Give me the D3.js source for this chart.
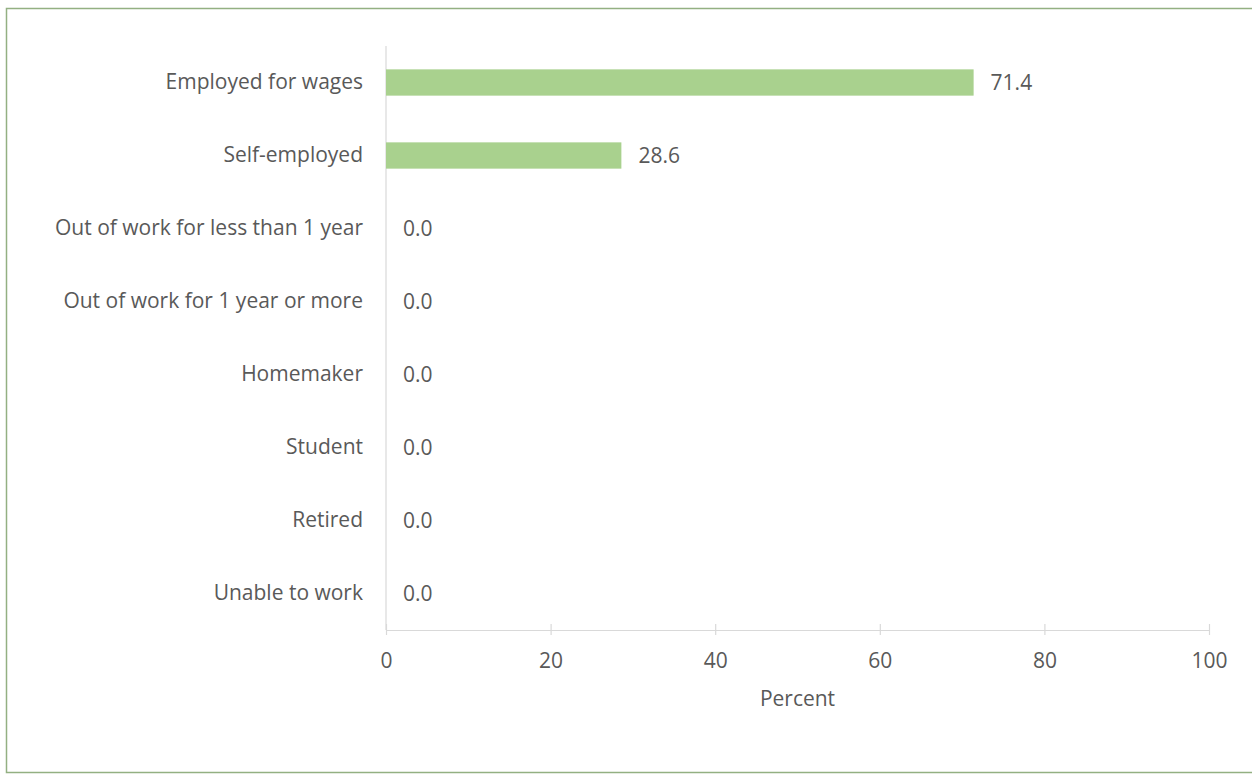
<!DOCTYPE html>
<html>
<head>
<meta charset="utf-8">
<script src="https://cdn.jsdelivr.net/npm/d3@7"></script>
<style>
  html, body { margin: 0; padding: 0; background: #fff; }
  svg { display: block; }
</style>
</head>
<body>
<svg id="chart" width="1252" height="774"></svg>
<script>
const categories = [
  "Employed for wages",
  "Self-employed",
  "Out of work for less than 1 year",
  "Out of work for 1 year or more",
  "Homemaker",
  "Student",
  "Retired",
  "Unable to work"
];
const values = [71.4, 28.6, 0.0, 0.0, 0.0, 0.0, 0.0, 0.0];
const xTicks = [0, 20, 40, 60, 80, 100];
const xTitle = "Percent";

(function () {
const svg = d3.select("#chart");
const font = "'Open Sans', 'Liberation Sans', sans-serif";
const fs = "21px";
const textColor = "#595959";

// outer frame
svg.append("rect")
  .attr("x", 6.5).attr("y", 8.5)
  .attr("width", 1252).attr("height", 764)
  .attr("fill", "#fff")
  .attr("stroke", "#93b082")
  .attr("stroke-width", 1.5);

const pLeft = 386, pRight = 1209, pTop = 46, pBottom = 630;

const x = d3.scaleLinear().domain([0, 100]).range([pLeft, pRight]);
const y = d3.scaleBand().domain(categories).range([pTop, pBottom]).paddingInner(0.64).paddingOuter(0.32);

// x axis
const xAxis = d3.axisBottom(x).tickValues(xTicks).tickSize(0).tickFormat(d3.format("d"));
const gx = svg.append("g").attr("transform", `translate(0,${pBottom})`).call(xAxis);
gx.select(".domain").attr("stroke", "#d9d9d9").attr("stroke-width", 1.2);
gx.selectAll(".tick text")
  .attr("dy", 0).attr("y", 38)
  .attr("fill", textColor).style("font-family", font).style("font-size", fs);
gx.selectAll(".tick").append("line")
  .attr("y1", -6).attr("y2", 5)
  .attr("stroke", "#d9d9d9").attr("stroke-width", 1.2);

// y axis line
svg.append("line")
  .attr("x1", x(0)).attr("x2", x(0))
  .attr("y1", pTop).attr("y2", pBottom)
  .attr("stroke", "#d9d9d9").attr("stroke-width", 1.2);

// category labels
const yAxis = d3.axisLeft(y).tickSize(0).tickPadding(23);
const gy = svg.append("g").attr("transform", `translate(${pLeft},0)`).call(yAxis);
gy.select(".domain").remove();
gy.selectAll(".tick text")
  .attr("fill", textColor).style("font-family", font).style("font-size", fs);

// bars
svg.append("g").selectAll("rect")
  .data(values)
  .join("rect")
  .attr("x", x(0))
  .attr("y", (d, i) => y(categories[i]))
  .attr("width", d => x(d) - x(0))
  .attr("height", y.bandwidth())
  .attr("fill", "#a9d18e");

// value labels
svg.append("g").selectAll("text")
  .data(values)
  .join("text")
  .attr("x", d => x(d) + 17)
  .attr("y", (d, i) => y(categories[i]) + y.bandwidth() / 2)
  .attr("dy", "0.35em")
  .attr("fill", textColor)
  .style("font-family", font)
  .style("font-size", fs)
  .text(d => d.toFixed(1));

// axis title
svg.append("text")
  .attr("x", (pLeft + pRight) / 2)
  .attr("y", 706)
  .attr("text-anchor", "middle")
  .attr("fill", textColor)
  .style("font-family", font)
  .style("font-size", fs)
  .text(xTitle);
})();
</script>
</body>
</html>
